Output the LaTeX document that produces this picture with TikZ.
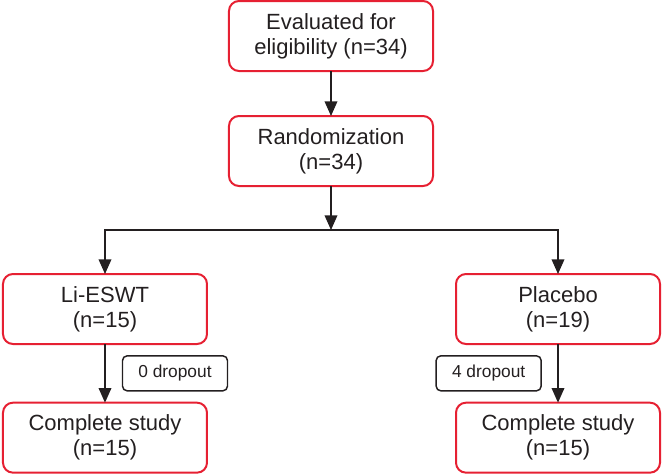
\documentclass[tikz,border=0pt]{standalone}
\usepackage{fontspec}
\setmainfont{Liberation Sans}
\usetikzlibrary{arrows.meta,positioning,calc}
\definecolor{boxred}{RGB}{230,32,50}
\definecolor{ink}{RGB}{35,31,32}

\begin{document}
\begin{tikzpicture}[
  x=0.75pt, y=0.75pt,
  node distance=33.75pt,
  >={Triangle[length=11pt,width=9.5pt]},
  block/.style={rectangle, draw=boxred, line width=1.5pt, rounded corners=7.5pt, align=center, text=ink,
    minimum width=153pt, minimum height=52.5pt, inner sep=0pt, outer sep=0pt, font=\fontsize{16.5pt}{18.75pt}\selectfont},
  note/.style={rectangle, draw=ink, line width=1.1pt, rounded corners=3.5pt, align=center, text=ink,
    minimum width=78.75pt, minimum height=26.25pt, inner sep=0pt, outer sep=0pt, font=\fontsize{13pt}{15pt}\selectfont},
  line/.style={draw=ink, line width=1.1pt, ->}
]

\useasboundingbox (-331,36) rectangle (333,-439);

\node[block] (eval) at (0,0) {Evaluated for\\eligibility (n=34)};
\node[block, below=of eval] (rand) {Randomization\\(n=34)};
\node[block, below=66pt of rand, xshift=-169.5pt] (li) {Li-ESWT\\(n=15)};
\node[block, below=66pt of rand, xshift=170.25pt] (pla) {Placebo\\(n=19)};
\node[block, below=44pt of li] (lidone) {Complete study\\(n=15)};
\node[block, below=44pt of pla] (pladone) {Complete study\\(n=15)};

\coordinate (split) at ($(rand.south)+(0,-44)$);
\node[note, xshift=52.5pt] (lidrop) at ($(li.south)!0.5!(lidone.north)$) {0 dropout};
\node[note, xshift=-52pt] (pladrop) at ($(pla.south)!0.5!(pladone.north)$) {4 dropout};

\path[line] (eval) -- (rand);
\path[line] (rand) -- (split);
\path[line] (split) -| (li.north);
\path[line] (split) -| (pla.north);
\path[line] (li) -- (lidone);
\path[line] (pla) -- (pladone);

\end{tikzpicture}
\end{document}
